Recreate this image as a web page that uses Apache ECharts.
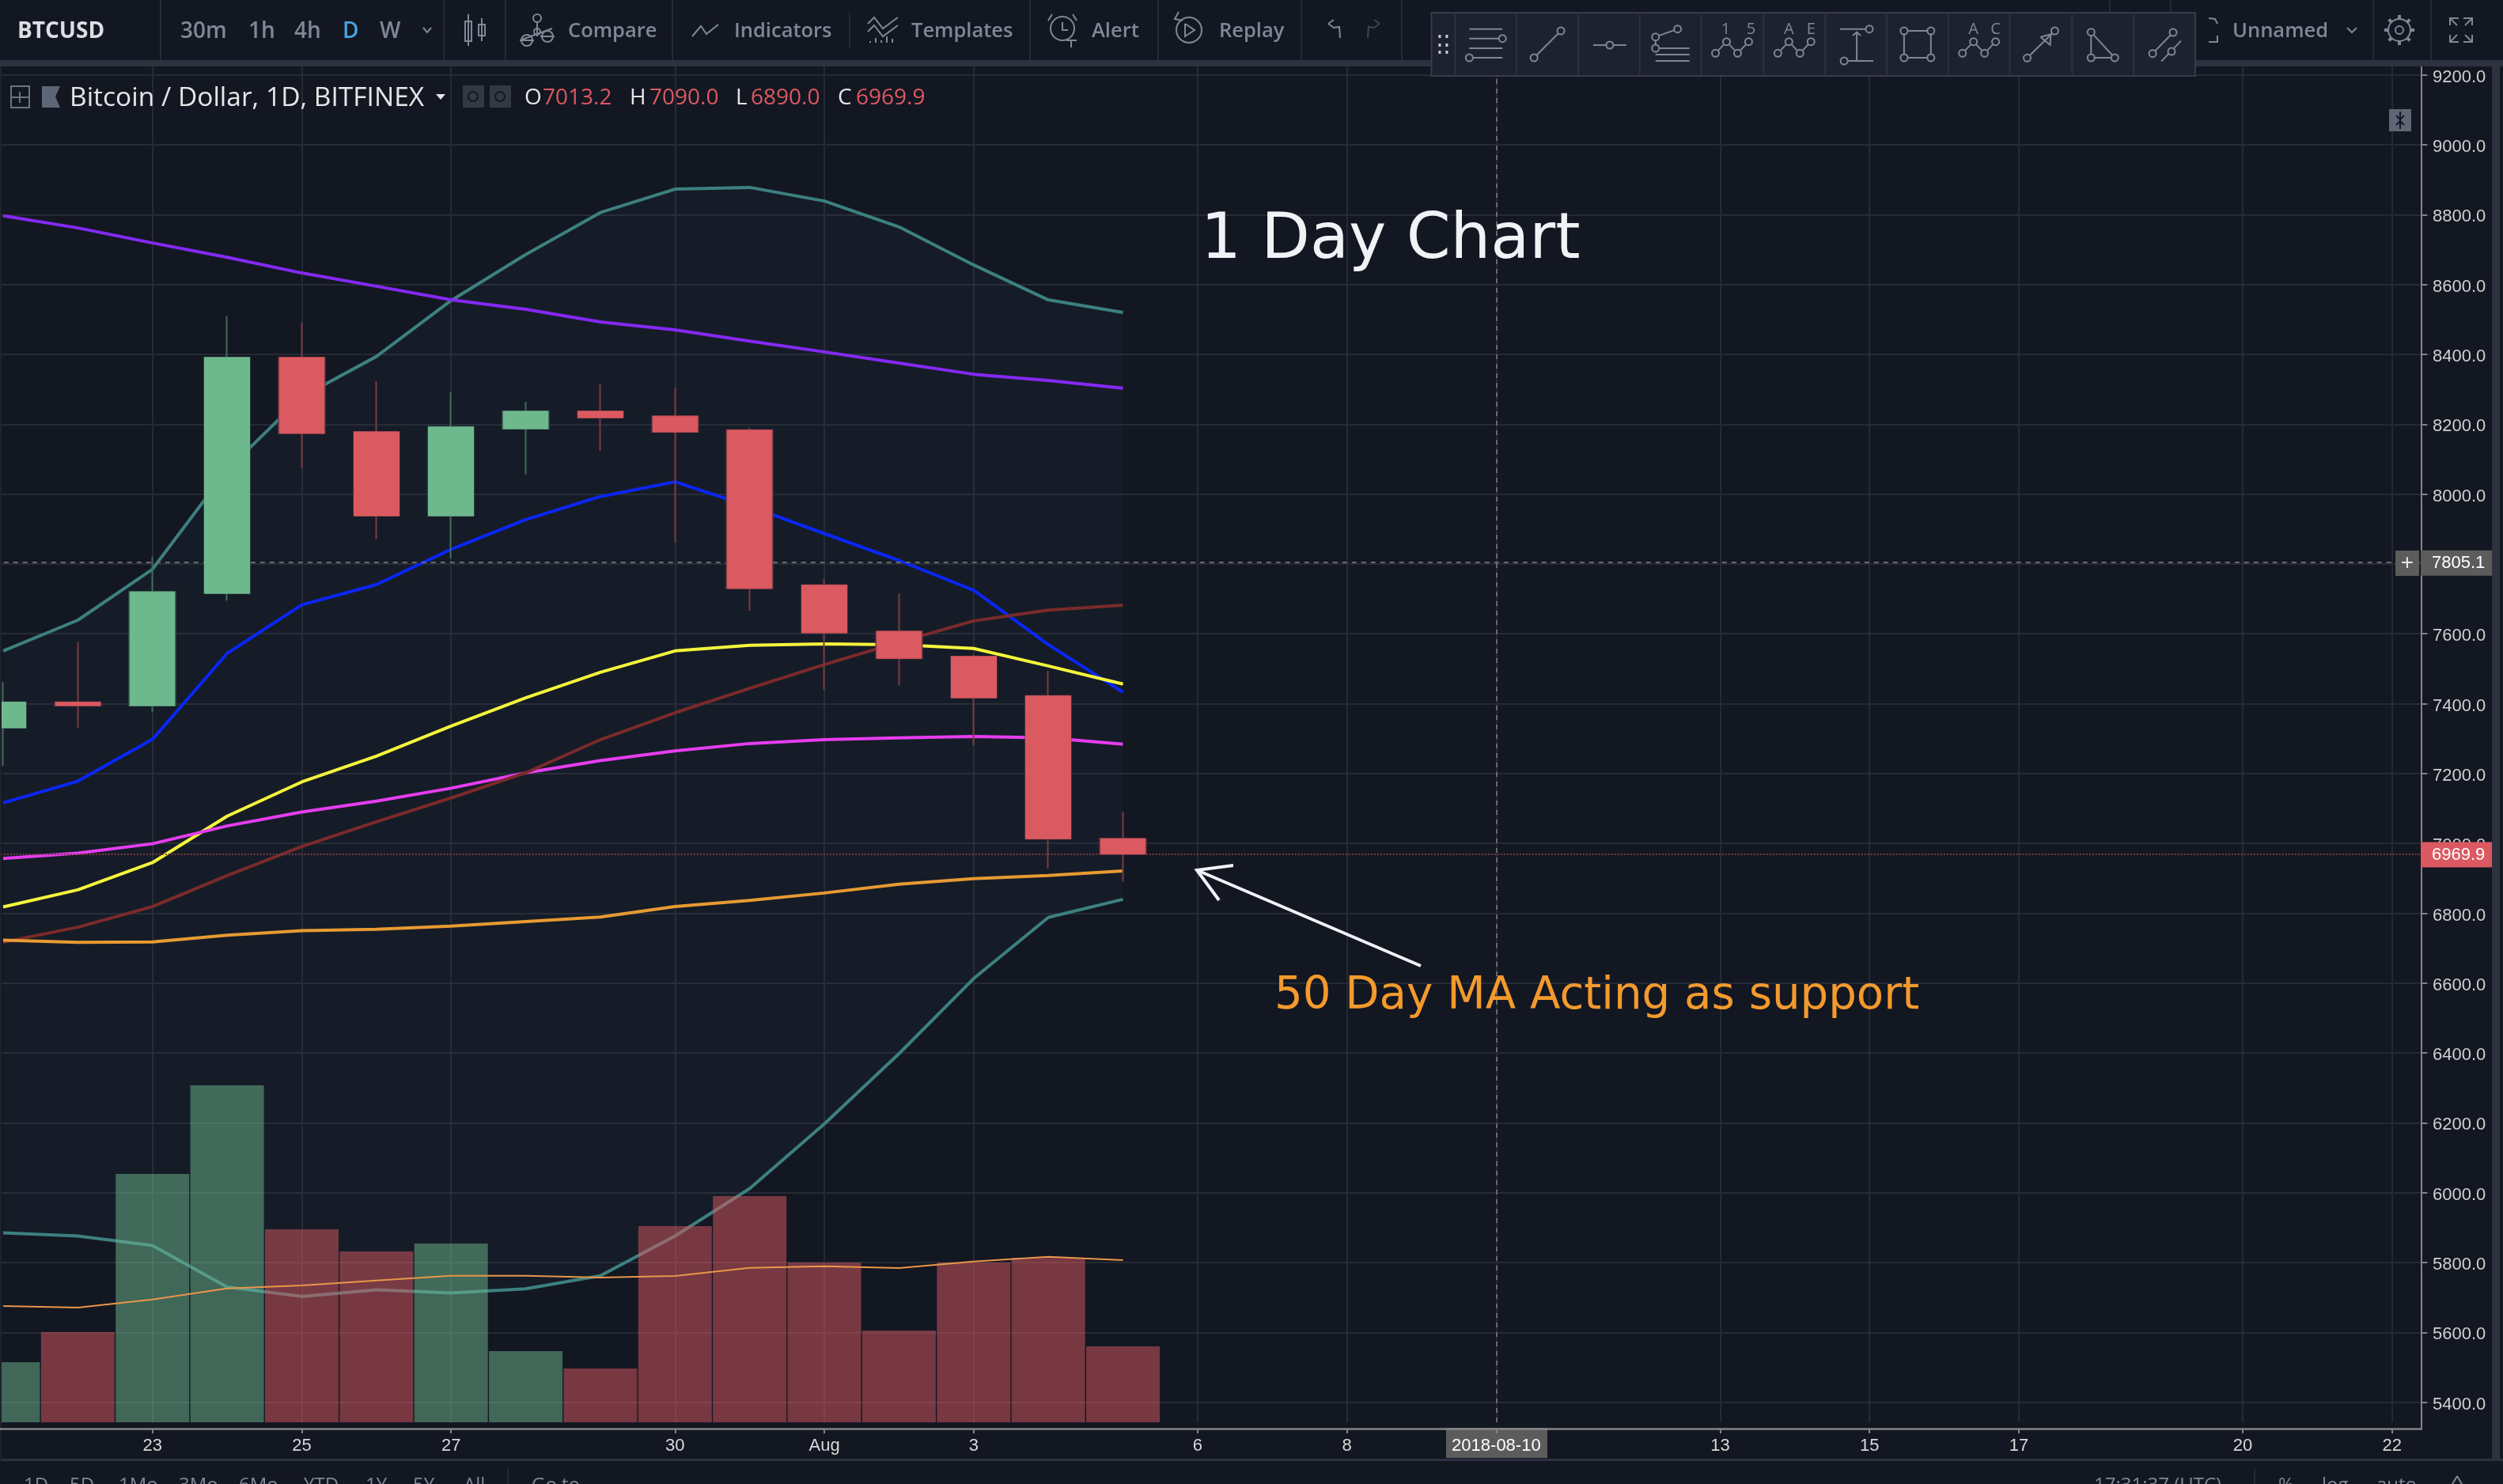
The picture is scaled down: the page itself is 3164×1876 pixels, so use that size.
<!DOCTYPE html>
<html>
<head>
<meta charset="utf-8">
<title>BTCUSD</title>
<script src="https://cdn.jsdelivr.net/npm/echarts@6/dist/echarts.min.js"></script>
<style>
html,body{margin:0;padding:0;background:#131722;}
#chart{width:3164px;height:1876px;}
</style>
</head>
<body>
<div id="chart"></div>
<script>
//日期
var days = ['21','22','23','24','25','26','27','28','29','30','31','Aug','2','3','4','5','6','7','8','9','2018-08-10','11','12','13','14','15','16','17','18','19','20','21','22'];
var tickIndex = [2,4,6,9,11,13,16,18,20,23,25,27,30,32];
var priceTicks = {min:5200, max:9400, step:200};

//K线
var opens  = [7331,7404,7394.5,7716,8391,8178,7938,8187,8237,8223,8183,7739,7607,7535,7422,7013.2];
var closes = [7404,7394.5,7720,8391,8174,7938,8192,8237,8219,8178,7730,7603,7530,7417,7013.2,6969.9];
var lows   = [7222,7331,7376,7695,8074,7871,7816,8056,8124,7861,7666,7440,7453,7281,6928,6890];
var highs  = [7462,7576,7820,8509,8490,8323,8291,8264,8314,8305,8190,7757,7716,7540,7494,7090];

//均线
var bbUpper = [7551,7639,7785,8069,8278,8394,8554,8686,8806,8873,8878,8839,8765,8656,8556,8520];
var bbLower = [5885,5876,5849,5730,5703,5722,5713,5725,5762,5876,6012,6197,6398,6613,6788,6840];
var maPurple = [8797,8762,8719,8678,8633,8595,8556,8529,8493,8470,8438,8407,8375,8343,8325,8303];
var maBlue = [7116,7178,7298,7544,7683,7741,7842,7927,7993,8035,7965,7887,7810,7725,7569,7433];
var maYellow = [6818,6867,6945,7078,7176,7250,7336,7417,7490,7551,7567,7571,7569,7558,7508,7456];
var maMagenta = [6957,6972,6999,7050,7090,7121,7158,7202,7237,7265,7286,7297,7302,7306,7302,7284];
var maBrown = [6717,6760,6819,6908,6991,7062,7130,7202,7297,7374,7444,7512,7576,7637,7668,7682];
var maOrange = [6723,6717,6718,6737,6750,6754,6763,6776,6789,6819,6837,6858,6883,6899,6908,6921];

//成交量
var volumes = [7600,11400,31400,42600,24400,21600,22600,9000,6800,24800,28600,20200,11600,20200,20800,9600];
var volumeUp = [1,0,1,1,0,0,1,1,0,0,0,0,0,0,0,0];
var volumeMa = [14700,14500,15530,16930,17300,17930,18530,18530,18300,18500,19530,19730,19500,20330,20930,20500];

var lastPrice = 6969.9, crossPrice = 7805.1, crossDay = '2018-08-10';

var BG = '#131722', BAND = '#2e3140', GRID = '#262a35', UP = '#6EB88E', DOWN = '#DB5961';
var TXT = '#7e8897', UI_FONT = '"Open Sans"', AXIS_FONT = '"Liberation Sans"';

var candleFull = opens.map(function(o,i){ return [o, closes[i], lows[i], highs[i]]; });
var candleBody = opens.map(function(o,i){
	return [o, closes[i], Math.min(o,closes[i]), Math.max(o,closes[i])];
});
var bandDiff = bbUpper.map(function(u,i){ return u - bbLower[i]; });

function lineSeries(data, color, width, z, xi, yi){
	return {type:'line', data:data, xAxisIndex:xi||0, yAxisIndex:yi||0, z:z||2, silent:true,
		showSymbol:false, symbol:'none', smooth:false, animation:false,
		lineStyle:{color:color, width:width||4}};
}

//画工具栏
var g = [];
function rect(x,y,w,h,fill,z,stroke){
	g.push({type:'rect', z:z||110, silent:true, shape:{x:x,y:y,width:w,height:h},
		style:{fill:fill||'none', stroke:stroke||'none', lineWidth:stroke?2:0}});
}
function text(s,x,y,color,size,opt){
	opt = opt||{};
	g.push({type:'text', z:opt.z||120, silent:true, x:x, y:y,
		style:{text:s, fill:color, font:(opt.weight||'normal')+' '+size+'px '+(opt.font||UI_FONT),
			textAlign:opt.align||'left', textVerticalAlign:'middle'}});
}
function line(pts,color,w,z){
	g.push({type:'polyline', z:z||120, silent:true, shape:{points:pts},
		style:{stroke:color||TXT, lineWidth:w||2, fill:'none'}});
}
function dot(x,y,r,color,z,fill){
	g.push({type:'circle', z:z||120, silent:true, shape:{cx:x,cy:y,r:r||5},
		style:{stroke:color||TXT, lineWidth:2, fill:fill||'none'}});
}

//遮住网格外面的部分
rect(0,0,3164,76,BG,100);
rect(0,76,3164,8,BAND,105);
rect(0,1807,3164,69,BG,100);
rect(0,1844,3164,3,BAND,105);
rect(3150,84,10,1762,BAND,105);
rect(0,84,2,1762,'#1e222d',105);
rect(3062,1800,88,44,BG,250);
rect(1828,1805,128,38,'#5c5c5c',190);

//顶部分隔线
[203,561,639,850,1302,1464,1645,1772,2667,2744,3000,3073].forEach(function(x){
	line([[x,0],[x,76]],'#262a35',2);
});
line([[1074,16],[1074,60]],'#262a35',2);
text('BTCUSD',22,40,'#dcdfe4',28,{weight:'bold'});
text('30m',228,40,TXT,28,{weight:600});
text('1h',314,40,TXT,28,{weight:600});
text('4h',372,40,TXT,28,{weight:600});
text('D',433,40,'#4aa3df',28,{weight:600});
text('W',480,40,TXT,28,{weight:600});
line([[535,35],[540,41],[545,35]],TXT,2);
text('Compare',718,40,TXT,25.5,{weight:600});
text('Indicators',928,40,TXT,25.5,{weight:600});
text('Templates',1152,40,TXT,25.5,{weight:600});
text('Alert',1380,40,TXT,25.5,{weight:600});
text('Replay',1541,40,TXT,25.5,{weight:600});
text('Unnamed',2822,40,TXT,25.5,{weight:600});
line([[2967,35],[2973,41],[2979,35]],TXT,2);

//K线图标
line([[592,18],[592,58]]); rect(588,27,8,25,'none',120,TXT);
line([[609,23],[609,52]]); rect(605,31,8,14,'none',120,TXT);
//Compare
dot(679,23,5); line([[679,28],[679,46]]); dot(679,40,4);
line([[660,50],[698,36]]);
dot(666,51,7); dot(692,46,7); line([[657,51],[675,51]]); line([[683,46],[701,46]]);
//Indicators
line([[875,46],[886,33],[893,43],[908,31]]);
//Templates
line([[1097,30],[1105,22],[1116,36],[1135,22]]);
line([[1097,40],[1105,32],[1116,46],[1135,32]]);
[1100,1107,1114,1121,1128].forEach(function(x,i){ line([[x,54-[2,6,3,8,5][i]],[x,54]]); });
//Alert
dot(1343,36,15); line([[1343,28],[1343,38],[1350,38]]); line([[1354,50],[1354,60]]); line([[1348,51],[1361,51]]);
line([[1330,18],[1325,26]]); line([[1356,18],[1361,26]]);
//Replay
dot(1503,38,16); line([[1498,30],[1510,38],[1498,46],[1498,30]]); line([[1490,15],[1485,24],[1495,26]]);
//Undo Redo
line([[1679,30],[1686,35],[1693,34],[1694,48]],TXT);
line([[1679,30],[1686,25]],TXT);
line([[1744,30],[1737,35],[1730,34],[1729,48]],'#3d4452');
line([[1744,30],[1737,25]],'#3d4452');
//Unnamed
line([[2792,23],[2800,24],[2803,30]],TXT);
line([[2792,53],[2803,53],[2803,45]],TXT);
//gear
dot(3033,38,14); dot(3033,38,5);
[[0,-1],[0.7,-0.7],[1,0],[0.7,0.7],[0,1],[-0.7,0.7],[-1,0],[-0.7,-0.7]].forEach(function(d){
	line([[3033+d[0]*14,38+d[1]*14],[3033+d[0]*19,38+d[1]*19]],TXT,4);
});
//fullscreen
line([[3097,32],[3097,23],[3108,23]]); line([[3125,32],[3125,23],[3114,23]]);
line([[3097,44],[3097,53],[3108,53]]); line([[3125,44],[3125,53],[3114,53]]);
line([[3097,23],[3106,32]]); line([[3125,23],[3116,32]]); line([[3097,53],[3106,44]]); line([[3125,53],[3116,44]]);

//图例行
rect(14,109,23,27,'none',120,'#6b7280');
line([[14,123],[37,123]],'#6b7280'); line([[25,116],[25,130]],'#6b7280');
g.push({type:'polygon', z:120, silent:true, shape:{points:[[53,109],[76,109],[70,122],[76,136],[53,136]]}, style:{fill:'#5d6675'}});
text('Bitcoin / Dollar, 1D, BITFINEX',88,124,'#e6e6e6',33.5);
g.push({type:'polygon', z:120, silent:true, shape:{points:[[551,119],[563,119],[557,126]]}, style:{fill:'#e6e6e6'}});
rect(585,108,27,28,'#333845',120); dot(598,122,6,'#131722');
rect(619,108,27,28,'#333845',120); dot(632,122,6,'#131722');
text('O',663,124,'#e6e6e6',28); text(opens[15].toFixed(1),686,124,DOWN,28);
text('H',796,124,'#e6e6e6',28); text(highs[15].toFixed(1),821,124,DOWN,28);
text('L',930,124,'#e6e6e6',28); text(lows[15].toFixed(1),949,124,DOWN,28);
text('C',1059,124,'#e6e6e6',28); text(closes[15].toFixed(1),1082,124,DOWN,28);

//右上角小按钮
rect(3020,138,28,28,'#5d6675',120);
line([[3034,141],[3034,163]],'#131722',2);
line([[3029,146],[3034,151],[3039,146]],'#131722',2);
line([[3029,158],[3034,153],[3039,158]],'#131722',2);

//浮动画图工具栏
var T = 130;
function X(z){ return 1600 + z/1.0026; }
function Y(z){ return z/3; }
rect(X(210),16,X(1178)-X(210),80,'#1e2230',T,'#363a4b');
[240,318,396,474,552,631,709,787,865,943,1022,1100].forEach(function(z){
	line([[X(z),18],[X(z),94]],'#2e3140',2,T+1);
});
rect(X(219),44,3,4,'#c8ccd4',T+1); rect(X(228),44,3,4,'#c8ccd4',T+1);
rect(X(219),55,3,4,'#c8ccd4',T+1); rect(X(228),55,3,4,'#c8ccd4',T+1);
rect(X(219),64,3,4,'#c8ccd4',T+1); rect(X(228),64,3,4,'#c8ccd4',T+1);
function tl(a){ line(a.map(function(p){ return [X(p[0]),Y(p[1])]; }),'#7d8796',2,T+2); }
function td(x,y){ dot(X(x),Y(y),4.5,'#7d8796',T+2,'#1e2230'); }
function tt(s,x,y){ text(s,X(x),Y(y),'#7d8796',20,{align:'center',z:T+2}); }
tl([[258,110],[300,110]]); tl([[258,146],[300,146]]); tl([[258,183],[300,183]]); tl([[258,219],[300,219]]); td(300,146); td(258,219);
tl([[340,219],[374,117]]); td(340,219); td(374,117);
tl([[415,171],[457,171]]); td(436,171);
tl([[494,140],[522,110]]); tl([[494,140],[494,183]]); tl([[494,183],[537,183]]); tl([[494,207],[537,207]]); tl([[494,231],[537,231]]); td(494,140); td(522,110); td(494,183);
function zig(x0){ tl([[x0,202],[x0+14,158],[x0+28,202],[x0+42,158]]); td(x0,202); td(x0+14,158); td(x0+28,202); td(x0+42,158); }
zig(570); tt('1',583,112); tt('5',615,112);
zig(649); tt('A',663,112); tt('E',691,112);
tl([[728,110],[765,110]]); td(765,110); tl([[749,230],[749,125]]); tl([[744,135],[749,122],[754,135]]); tl([[733,231],[770,231]]); td(733,231);
tl([[809,117],[843,117],[843,219],[809,219],[809,117]]); td(809,117); td(843,117); td(809,219); td(843,219);
zig(883); tt('A',897,112); tt('C',925,112);
tl([[965,220],[1000,117]]); td(965,220); td(1000,117); tl([[982,140],[995,130],[994,170],[982,140]]);
tl([[1046,122],[1076,219],[1046,219],[1046,122]]); td(1046,122); td(1076,219); td(1046,219);
tl([[1124,203],[1150,123]]); td(1124,203); td(1150,123); tl([[1135,233],[1160,155]]); td(1148,195);

//底部工具栏, 只露出上半截
['1D','5D','1Mo','3Mo','6Mo','YTD','1Y','5Y','All'].forEach(function(s,i){
	text(s,[30,88,150,226,302,384,462,522,586][i],1878,TXT,24);
});
line([[642,1857],[642,1876]],'#262a35',2);
text('Go to',672,1878,TXT,24);
text('17:31:37 (UTC)',2647,1878,TXT,24);
line([[2850,1857],[2850,1876]],'#262a35',2);
text('%',2880,1878,TXT,24);
text('log',2935,1878,TXT,24);
text('auto',3004,1878,TXT,24);
line([[3106,1866],[3100,1876]]); line([[3106,1866],[3112,1876]]);

//注释
text('1 Day Chart',1518,305,'#f0f3f6',80,{font:'"DejaVu Sans"',z:150});
text('50 Day MA Acting as support',1611,1260,'#f39a2d',56.2,{font:'"DejaVu Sans"',z:150});
line([[1796,1221],[1513,1100]],'#f0f3f6',4,150);
line([[1559,1094],[1513,1100],[1541,1138]],'#f0f3f6',4,150);

//十字线按钮
rect(3028,696,30,32,'#5c5c5c',120);
text('+',3043,712,'#e8e8e8',28,{align:'center',font:AXIS_FONT});

var option = {
	backgroundColor: BG,
	animation: false,
	grid: [
		{left:-43.2, width:3114.2, top:6.4, height:1854.6, outerBoundsMode:'none'},
		{left:-43.2, width:3114.2, top:84, height:1714, outerBoundsMode:'none'}
	],
	xAxis: [
		{type:'category', gridIndex:0, data:days, show:false},
		{type:'category', gridIndex:1, data:days, position:'bottom', offset:8, z:200,
			axisLine:{show:true, onZero:false, lineStyle:{color:'#858585', width:2.5}},
			axisTick:{show:true, alignWithLabel:true, length:6, lineStyle:{color:'#858585', width:2},
				interval:function(i){ return tickIndex.indexOf(i)>=0; }},
			axisLabel:{show:true, color:'#d8d8d8', fontSize:22, fontFamily:AXIS_FONT, margin:11, hideOverlap:false,
				interval:function(i){ return tickIndex.indexOf(i)>=0; },
				formatter:function(v){ return v.length>5 ? '{tag|'+v+'}' : v; },
				rich:{tag:{color:'#fff', fontSize:22, fontFamily:AXIS_FONT}}},
			splitLine:{show:false}},
		{type:'category', gridIndex:1, data:days, position:'top', z:0,
			axisLine:{show:false}, axisTick:{show:false}, axisLabel:{show:false},
			splitLine:{show:true, alignWithLabel:true, lineStyle:{color:GRID, width:2},
				interval:function(i){ return tickIndex.indexOf(i)>=0; }}}
	],
	yAxis: [
		{type:'value', gridIndex:0, position:'right', offset:-10, min:priceTicks.min, max:priceTicks.max, interval:priceTicks.step,
			axisLine:{show:true, onZero:false, lineStyle:{color:'#858585', width:2}},
			axisTick:{show:true, length:7, lineStyle:{color:'#858585', width:2}},
			axisLabel:{show:true, margin:14,
				showMinLabel:false, showMaxLabel:false,
				formatter:function(v){ return '{p|'+v.toFixed(1)+'}'; },
				rich:{p:{color:'#d0d0d0', fontSize:22, fontFamily:AXIS_FONT, padding:[6,0,0,0]}}},
			splitLine:{show:true, lineStyle:{color:GRID, width:2}}},
		{type:'value', gridIndex:1, min:0, max:171400, show:false, splitLine:{show:false}}
	],
	series: [
		//布林带填充
		{type:'line', stack:'bb', data:bbLower, symbol:'none', silent:true, z:1, lineStyle:{opacity:0}},
		{type:'line', stack:'bb', data:bandDiff, symbol:'none', silent:true, z:1, lineStyle:{opacity:0},
			areaStyle:{color:'rgba(51,143,134,0.05)', opacity:1}},
		lineSeries(bbUpper,'#3d8080'),
		lineSeries(bbLower,'#3d8080'),
		lineSeries(maPurple,'#8529f5'),
		lineSeries(maBlue,'#0a26f5'),
		lineSeries(maYellow,'#f5f53c'),
		lineSeries(maMagenta,'#e63df0'),
		lineSeries(maBrown,'#7b2a2a'),
		lineSeries(maOrange,'#e89a32'),
		//成交量
		{type:'bar', xAxisIndex:1, yAxisIndex:1, barWidth:93, z:3, silent:true,
			data:volumes.map(function(v,i){
				return {value:v, itemStyle:{color:volumeUp[i]?UP:DOWN, opacity:0.5}};
			}),
			markLine:{silent:true, symbol:'none', animation:false, label:{show:false},
				lineStyle:{color:'#6a6a6a', width:2, type:[6,6]},
				data:[{xAxis:crossDay}]}},
		lineSeries(volumeMa,'#e8964a',2,4,1,1),
		//K线
		{type:'candlestick', data:candleFull, barWidth:58, z:5, silent:true,
			itemStyle:{color:UP, color0:DOWN, borderColor:'#436b59', borderColor0:'#7b3a44', borderWidth:2}},
		{type:'candlestick', data:candleBody, barWidth:57, z:6, silent:true,
			itemStyle:{color:UP, color0:DOWN, borderColor:UP, borderColor0:DOWN, borderWidth:1},
			markLine:{silent:true, symbol:'none', animation:false, precision:1,
				data:[
					{yAxis:lastPrice, lineStyle:{color:'#7b3a44', width:2, type:[2,2]},
						label:{show:true, position:'end', distance:-11, offset:[0,1], formatter:lastPrice.toFixed(1), color:'#fff',
							fontSize:22, fontFamily:AXIS_FONT, backgroundColor:DOWN, padding:[6,13,4,14]}},
					{yAxis:crossPrice, lineStyle:{color:'#6a6a6a', width:2, type:[6,6]},
						label:{show:true, position:'end', distance:-11, offset:[0,1], formatter:crossPrice.toFixed(1), color:'#fff',
							fontSize:22, fontFamily:AXIS_FONT, backgroundColor:'#5c5c5c', padding:[6,13,4,14]}}
				]}}
	],
	graphic: {elements: g}
};

var chart = echarts.init(document.getElementById('chart'));
chart.setOption(option);
</script>
</body>
</html>
